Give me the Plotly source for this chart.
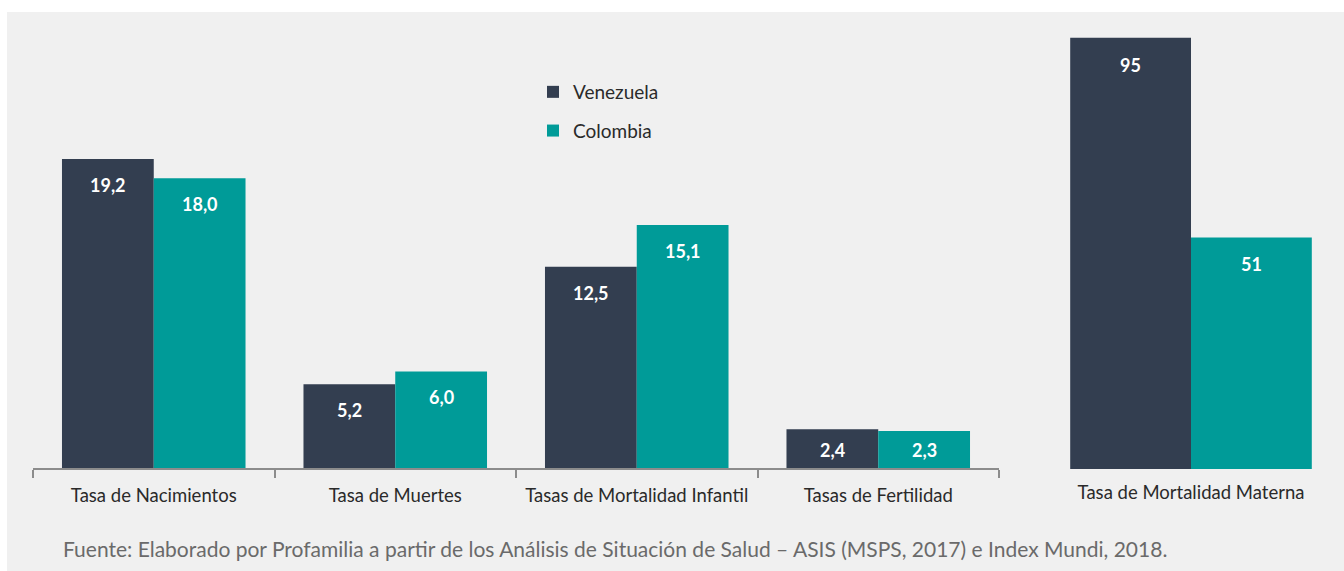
import plotly.graph_objects as go

# ---- data ----
categories = ["Tasa de Nacimientos", "Tasa de Muertes", "Tasas de Mortalidad Infantil", "Tasas de Fertilidad"]
venezuela = [19.2, 5.2, 12.5, 2.4]
colombia = [18.0, 6.0, 15.1, 2.3]

maternal_category = ["Tasa de Mortalidad Materna"]
maternal_venezuela = [95]
maternal_colombia = [51]

series_names = ["Venezuela", "Colombia"]
source_text = ("Fuente: Elaborado por Profamilia a partir de los Análisis de Situación de Salud "
               "– ASIS (MSPS, 2017) e Index Mundi, 2018.")

# ---- style ----
W, H = 1344, 571
C_VEN = "#333e50"
C_COL = "#009b98"
BG = "#f0f0f0"
FONT = "Lato"

def px_x(p):
    return p / W

def px_y(p):
    return 1 - p / H

fig = go.Figure()

bw = 0.38
fig.add_trace(go.Bar(x=categories, y=venezuela, name=series_names[0], marker_color=C_VEN,
                     width=bw, offset=-bw, xaxis="x", yaxis="y", legendgroup="v",
                     marker_line_width=0))
fig.add_trace(go.Bar(x=categories, y=colombia, name=series_names[1], marker_color=C_COL,
                     width=bw, offset=0, xaxis="x", yaxis="y", legendgroup="c",
                     marker_line_width=0))

bw2 = 0.40
fig.add_trace(go.Bar(x=maternal_category, y=maternal_venezuela, name=series_names[0], marker_color=C_VEN,
                     width=bw2, offset=-bw2, xaxis="x2", yaxis="y2", showlegend=False,
                     marker_line_width=0))
fig.add_trace(go.Bar(x=maternal_category, y=maternal_colombia, name=series_names[1], marker_color=C_COL,
                     width=bw2, offset=0, xaxis="x2", yaxis="y2", showlegend=False,
                     marker_line_width=0))

def fmt(v):
    return f"{v:.1f}".replace(".", ",")

annotations = []
for i, (v, c) in enumerate(zip(venezuela, colombia)):
    for val, off in ((v, -bw / 2), (c, bw / 2)):
        small = val < 4
        annotations.append(dict(x=i + off, y=(val / 2 if small else val), xref="x", yref="y",
                                text=fmt(val), showarrow=False, yshift=(-1 if small else -26),
                                font=dict(family=FONT, size=18, color="white", weight="bold")))
for val, off in ((maternal_venezuela[0], -bw2 / 2), (maternal_colombia[0], bw2 / 2)):
    annotations.append(dict(x=off, y=val, xref="x2", yref="y2", text=str(val), showarrow=False,
                            yshift=-27, font=dict(family=FONT, size=18, color="white", weight="bold")))

annotations.append(dict(x=px_x(61), y=px_y(548), xref="paper", yref="paper", xanchor="left",
                        yanchor="middle", text=source_text, showarrow=False,
                        font=dict(family=FONT, size=21, color="#6a6a6a")))

fig.update_layout(
    width=W, height=H,
    margin=dict(l=0, r=0, t=0, b=0, autoexpand=False),
    paper_bgcolor="white",
    plot_bgcolor="rgba(0,0,0,0)",
    barmode="overlay",
    font=dict(family=FONT, color="#2a2a2a"),
    showlegend=True,
    legend=dict(x=px_x(533), y=px_y(73), xanchor="left", yanchor="top",
                bgcolor="rgba(0,0,0,0)", font=dict(family=FONT, size=19, color="#2a2a2a"),
                tracegroupgap=11, traceorder="grouped", itemwidth=30),
    xaxis=dict(type="category", domain=[px_x(33), px_x(999)], range=[-0.5, 3.5],
               showgrid=False, zeroline=False,
               showline=True, linecolor="#8c8c8c", linewidth=2,
               ticks="outside", tickson="boundaries", ticklen=8, tickwidth=2, tickcolor="#8c8c8c",
               ticklabelstandoff=10, automargin=False,
               tickfont=dict(family=FONT, size=18.5, color="#2a2a2a")),
    yaxis=dict(domain=[px_y(468), px_y(146)], range=[0, 20], visible=False, showgrid=False),
    xaxis2=dict(type="category", domain=[px_x(1040), px_x(1342)], range=[-0.5, 0.5],
                showgrid=False, zeroline=False,
                showline=False, ticks="", ticklabelstandoff=11, automargin=False,
                tickfont=dict(family=FONT, size=18.5, color="#2a2a2a")),
    yaxis2=dict(domain=[px_y(469), px_y(15)], range=[0, 100], visible=False, showgrid=False,
                anchor="x2"),
    annotations=annotations,
    shapes=[dict(type="rect", xref="paper", yref="paper", x0=px_x(7), x1=1.0, y0=0.0, y1=px_y(12),
                 fillcolor=BG, line_width=0, layer="below")],
)
fig.update_yaxes(fixedrange=True)

fig.write_html("out.html", config={"displayModeBar": False},
               post_script="document.body.style.margin='0';")
